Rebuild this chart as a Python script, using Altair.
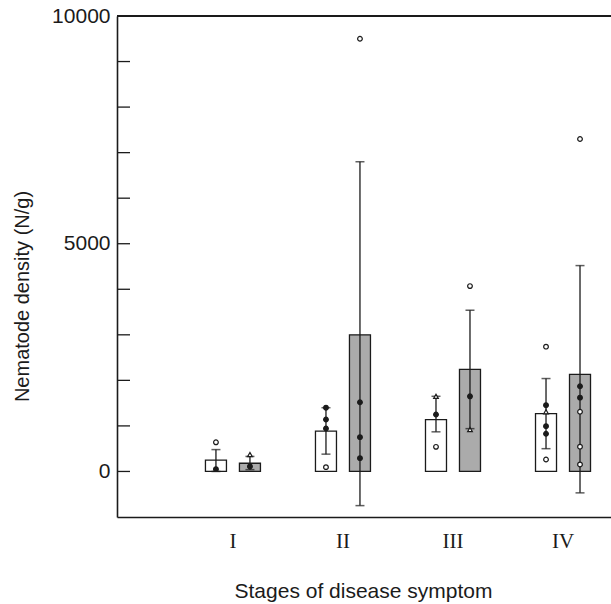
import altair as alt
import pandas as pd

# ---- data ----
stages = ["I", "II", "III", "IV"]
series = ["white", "grey"]

white_mean = [250, 885, 1140, 1270]
white_lo = [0, 380, 870, 500]
white_hi = [480, 1400, 1650, 2040]

grey_mean = [180, 3000, 2240, 2130]
grey_lo = [40, -750, 940, -470]
grey_hi = [330, 6800, 3540, 4520]

pt_stage = ["I", "I", "I", "I",
            "II", "II", "II", "II", "II", "II", "II", "II",
            "III", "III", "III", "III", "III", "III",
            "IV", "IV", "IV", "IV", "IV", "IV",
            "IV", "IV", "IV", "IV", "IV", "IV"]
pt_series = ["white", "white", "grey", "grey",
             "white", "white", "white", "white", "grey", "grey", "grey", "grey",
             "white", "white", "white", "grey", "grey", "grey",
             "white", "white", "white", "white", "white", "white",
             "grey", "grey", "grey", "grey", "grey", "grey"]
pt_value = [50, 640, 110, 370,
            1400, 1140, 944, 95, 1520, 753, 292, 9500,
            1650, 1250, 540, 4070, 1650, 920,
            2740, 1455, 1310, 995, 827, 263,
            7300, 1870, 1620, 1310, 545, 154]
pt_kind = ["filled", "open", "filled", "triangle",
           "filled", "filled", "filled", "open", "filled", "filled", "filled", "open",
           "triangle", "filled", "open", "open", "filled", "triangle",
           "open", "filled", "triangle", "filled", "filled", "open",
           "open", "filled", "filled", "open", "open", "open"]

y_ticks = [0, 1000, 2000, 3000, 4000, 5000, 6000, 7000, 8000, 9000]
y_labels = [0, 5000, 10000]

bars = pd.DataFrame({
    "stage": stages * 2,
    "series": ["white"] * 4 + ["grey"] * 4,
    "mean": white_mean + grey_mean,
    "lo": white_lo + grey_lo,
    "hi": white_hi + grey_hi,
})
pts = pd.DataFrame({"stage": pt_stage, "series": pt_series,
                    "value": pt_value, "kind": pt_kind})
ticks = pd.DataFrame({"v": y_ticks})

INK = "#1b1b1b"
W, H = 494, 501

yscale = alt.Scale(domain=[-1000, 10000], nice=False, zero=False)
xenc = alt.X("stage:N", sort=stages,
             scale=alt.Scale(paddingInner=0.4, paddingOuter=0.445, align=0.847),
             axis=alt.Axis(title="Stages of disease symptom", labelAngle=0,
                           ticks=False, labelFont="Liberation Serif",
                           labelFontSize=21, labelPadding=13, labelColor=INK,
                           domainColor=INK, domainWidth=1.6,
                           titleFont="Liberation Sans", titleFontSize=21,
                           titleFontWeight="normal", titleColor=INK,
                           titleX=246, titleY=80, titleBaseline="alphabetic",
                           titleAlign="center"))
xoff = alt.XOffset("series:N", sort=series,
                   scale=alt.Scale(paddingInner=0.382, paddingOuter=0.162))

bar_layer = alt.Chart(bars).mark_bar(stroke=INK, strokeWidth=1.3).encode(
    x=xenc,
    xOffset=xoff,
    y=alt.Y("mean:Q", scale=yscale,
            axis=alt.Axis(title="Nematode density (N/g)", values=y_labels,
                          format="d",
                          ticks=False, grid=False, labelPadding=7,
                          labelFont="Liberation Sans", labelFontSize=21,
                          labelColor=INK, domainColor=INK, domainWidth=1.6,
                          titleFont="Liberation Sans", titleFontSize=20,
                          titleFontWeight="normal", titleColor=INK,
                          titleX=-95, titleY=280, titleAlign="center",
                          titleBaseline="middle")),
    fill=alt.Fill("series:N", scale=alt.Scale(domain=series,
                                              range=["#ffffff", "#ababab"]),
                  legend=None),
)

err = alt.Chart(bars).mark_rule(color=INK, strokeWidth=1.3).encode(
    x=alt.X("stage:N", sort=stages), xOffset=xoff,
    y=alt.Y("lo:Q", scale=yscale), y2="hi:Q")
cap_lo = alt.Chart(bars).mark_tick(color=INK, size=9, thickness=1.5).encode(
    x=alt.X("stage:N", sort=stages), xOffset=xoff, y=alt.Y("lo:Q", scale=yscale))
cap_hi = alt.Chart(bars).mark_tick(color=INK, size=9, thickness=1.5).encode(
    x=alt.X("stage:N", sort=stages), xOffset=xoff, y=alt.Y("hi:Q", scale=yscale))

def pts_layer(kind, shape, filled):
    return alt.Chart(pts).transform_filter(alt.datum.kind == kind).mark_point(
        shape=shape, size=22, filled=filled, stroke=INK, strokeWidth=1.2,
        fill=INK if filled else "#ffffff", opacity=1).encode(
        x=alt.X("stage:N", sort=stages), xOffset=xoff,
        y=alt.Y("value:Q", scale=yscale))

p_filled = pts_layer("filled", "circle", True)
p_open = pts_layer("open", "circle", False)
p_tri = pts_layer("triangle", "triangle-up", False)

tick_layer = alt.Chart(ticks).mark_rule(color=INK, strokeWidth=1.3).encode(
    y=alt.Y("v:Q", scale=yscale), x=alt.value(0), x2=alt.value(13))
top_line = alt.Chart(ticks).mark_rule(color=INK, strokeWidth=1.6).encode(
    y=alt.datum(10000, scale=yscale))

chart = alt.layer(bar_layer, err, cap_lo, cap_hi, p_filled, p_open, p_tri,
                  tick_layer, top_line).properties(
    width=W, height=H,
    autosize=alt.AutoSizeParams(type="none"),
    padding={"left": 117, "top": 16, "right": 0, "bottom": 87},
    background="white",
).configure_view(stroke=None)

chart.save("out.html", embed_options={"renderer": "svg", "actions": False})
